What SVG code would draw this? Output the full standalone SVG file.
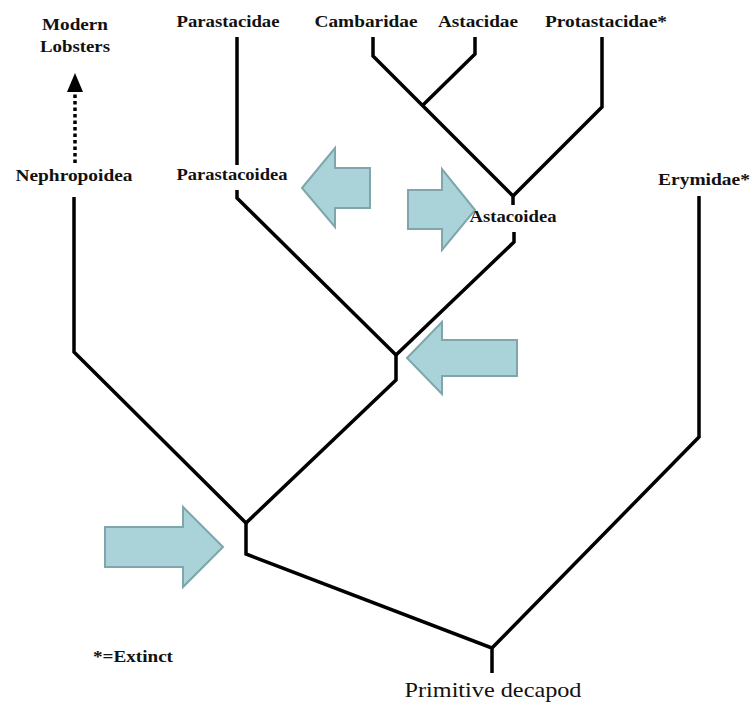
<svg xmlns="http://www.w3.org/2000/svg" width="755" height="709" viewBox="0 0 755 709">
<style>
.t{font-family:"Liberation Serif","Times New Roman",serif;font-weight:bold;font-size:17px;fill:#111;text-anchor:middle}
.e{fill:none;stroke:#000;stroke-width:3.5;stroke-linejoin:miter;stroke-linecap:butt}
.a{fill:#a9d3d9;stroke:#7fa6aa;stroke-width:2}
</style>
<rect width="755" height="709" fill="#fff"/>
<g id="connectors">
<path class="e" d="M74,197 V352 L246,523"/>
<path class="e" d="M237,37 V165"/>
<path class="e" d="M237,190 V198 L396,355"/>
<path class="e" d="M396,355 V380 L246,523"/>
<path class="e" d="M514,232 V242 L396,355"/>
<path class="e" d="M373,37 V56 L513,196 V205"/>
<path class="e" d="M475,37 V54 L423,105"/>
<path class="e" d="M602,37 V107 L513,196"/>
<path class="e" d="M699,196 V437 L492,648"/>
<path class="e" d="M246,523 V554 L492,648 V673"/>
<path d="M75,163 V92" fill="none" stroke="#000" stroke-width="3.5" stroke-dasharray="3.5 3"/>
<polygon points="75,73 67,92 83,92" fill="#000"/>
</g>
<g id="arrows">
<polygon class="a" points="302,188 335,148 335,168 370,168 370,208 335,208 335,227"/>
<polygon class="a" points="475,210 442,169 442,190 408,190 408,229 442,229 442,250"/>
<polygon class="a" points="407,358 442,322 442,340 517,340 517,376 442,376 442,394"/>
<polygon class="a" points="223,547 183,507 183,527 105,527 105,567 183,567 183,587"/>
</g>
<g id="n-modern"><text class="t" x="75" y="30" textLength="66" lengthAdjust="spacingAndGlyphs">Modern</text><text class="t" x="75" y="52" textLength="70" lengthAdjust="spacingAndGlyphs">Lobsters</text></g>
<g id="n-parastacidae"><text class="t" x="228" y="27" textLength="103" lengthAdjust="spacingAndGlyphs">Parastacidae</text></g>
<g id="n-cambaridae"><text class="t" x="366" y="27" textLength="103" lengthAdjust="spacingAndGlyphs">Cambaridae</text></g>
<g id="n-astacidae"><text class="t" x="478" y="27" textLength="80" lengthAdjust="spacingAndGlyphs">Astacidae</text></g>
<g id="n-protastacidae"><text class="t" x="606" y="27" textLength="122" lengthAdjust="spacingAndGlyphs">Protastacidae*</text></g>
<g id="n-nephropoidea"><text class="t" x="74" y="181" textLength="117" lengthAdjust="spacingAndGlyphs">Nephropoidea</text></g>
<g id="n-parastacoidea"><text class="t" x="232" y="180" textLength="111" lengthAdjust="spacingAndGlyphs">Parastacoidea</text></g>
<g id="n-astacoidea"><text class="t" x="513" y="222" textLength="87" lengthAdjust="spacingAndGlyphs">Astacoidea</text></g>
<g id="n-erymidae"><text class="t" x="704" y="185" textLength="92" lengthAdjust="spacingAndGlyphs">Erymidae*</text></g>
<g id="n-extinct"><text class="t" x="133" y="662" textLength="80" lengthAdjust="spacingAndGlyphs">*=Extinct</text></g>
<g id="n-primitive"><text class="t" x="493" y="697" style="font-size:21px;font-weight:normal" textLength="177" lengthAdjust="spacingAndGlyphs">Primitive decapod</text></g>
</svg>
